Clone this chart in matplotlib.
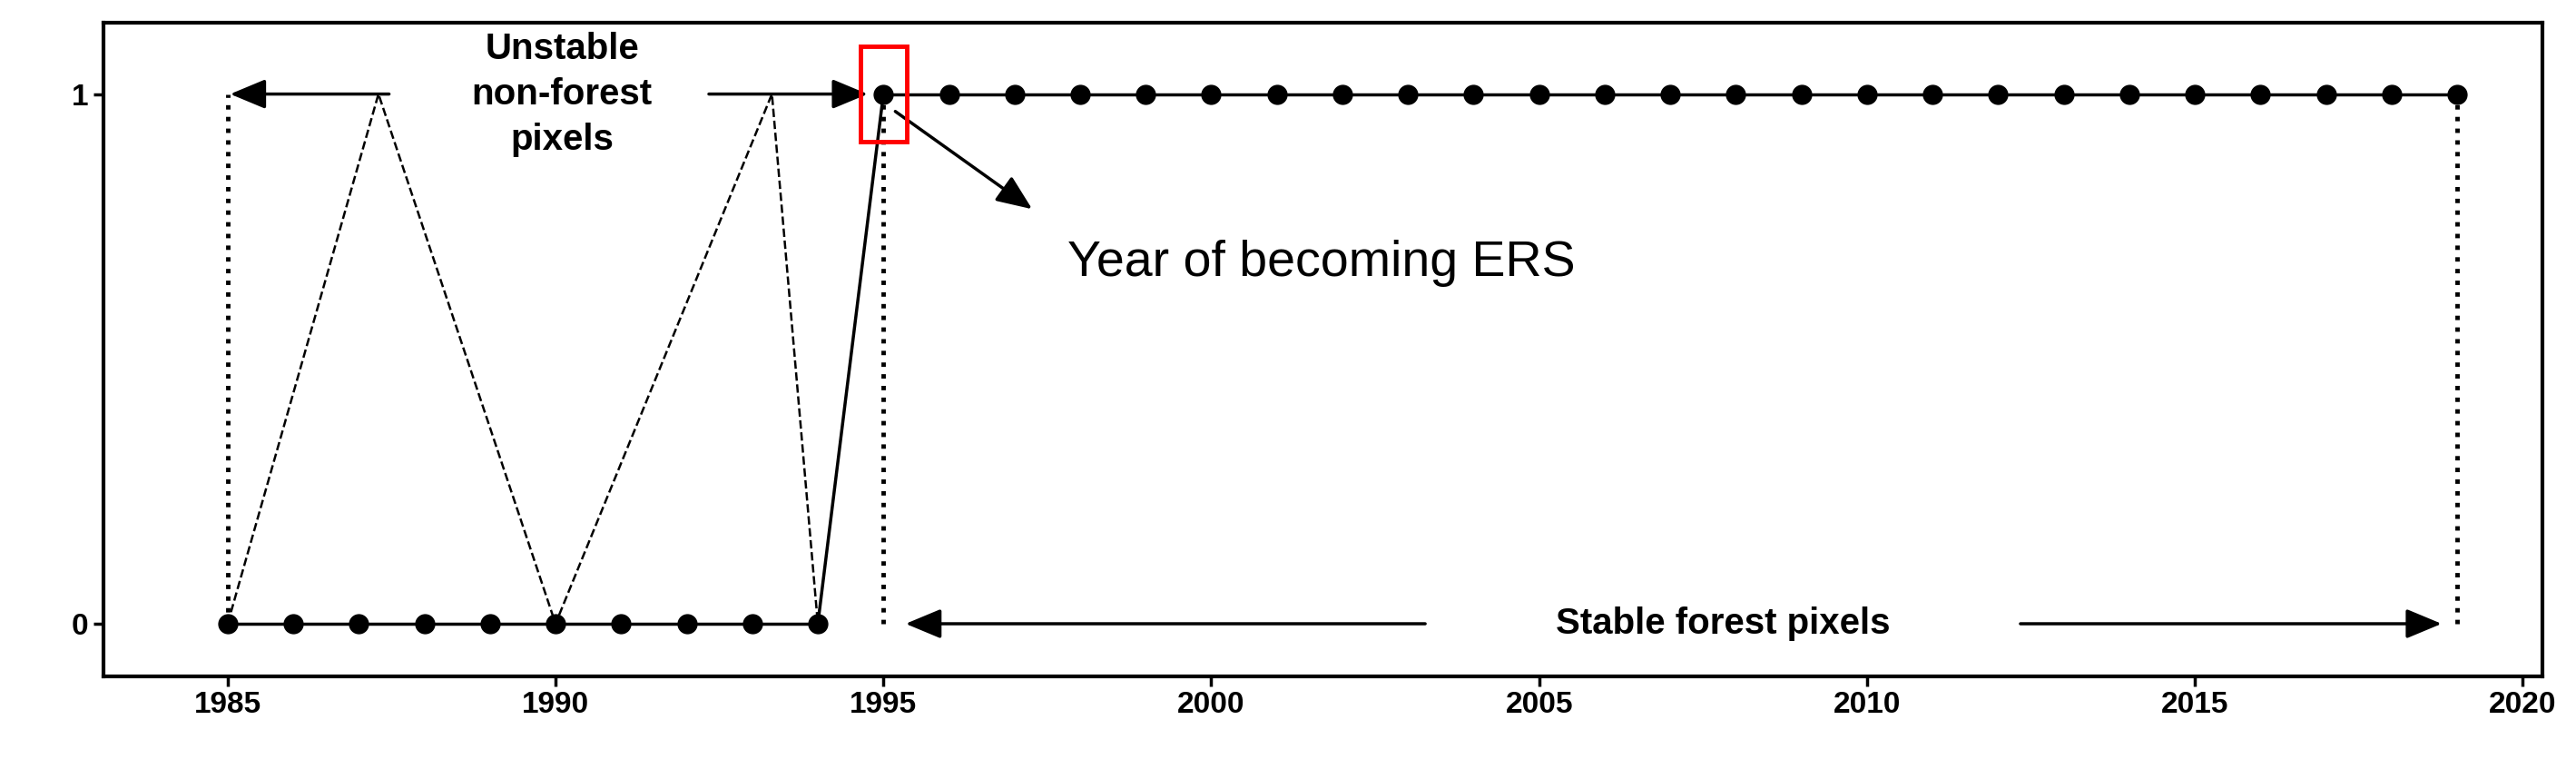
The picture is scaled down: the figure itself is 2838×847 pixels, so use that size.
import matplotlib
matplotlib.use("Agg")
import matplotlib.pyplot as plt
from matplotlib.patches import Rectangle

plt.rcParams["font.family"] = ["Liberation Sans", "DejaVu Sans"]

# data
years_nonforest = list(range(1985, 1995))
vals_nonforest = [0] * 10
years_forest = list(range(1995, 2020))
vals_forest = [1] * 25
dash_x = [1985, 1987.3, 1990, 1993.3, 1994]
dash_y = [0, 1, 0, 1, 0]
xticks = [1985, 1990, 1995, 2000, 2005, 2010, 2015, 2020]

fig = plt.figure(figsize=(28.38, 8.47), dpi=100)
ax = fig.add_axes([0.040, 0.12, 0.947, 0.85])

ax.plot(dash_x, dash_y, "k--", lw=1.8)
ax.plot(years_nonforest, vals_nonforest, "k-o", lw=2.5, ms=15)
ax.plot([1994, 1995], [0, 1], "k-", lw=2.5)
ax.plot(years_forest, vals_forest, "k-o", lw=2.5, ms=15)
for x in (1985, 1995, 2019):
    ax.plot([x, x], [0, 1], "k:", lw=3.5)

arr = dict(arrowstyle="-|>,head_length=2.4,head_width=1.0", color="k", lw=2.5)
ax.annotate("", xy=(1985, 1), xytext=(1987.5, 1), arrowprops=arr)
ax.annotate("", xy=(1994.8, 1), xytext=(1992.3, 1), arrowprops=arr)
ax.text(1990.1, 1.0, "Unstable\nnon-forest\npixels", ha="center", va="center",
        fontsize=29, fontweight="bold", linespacing=1.4)

ax.annotate("", xy=(1995.3, 0), xytext=(2003.3, 0), arrowprops=arr)
ax.annotate("", xy=(2018.8, 0), xytext=(2012.3, 0), arrowprops=arr)
ax.text(2007.8, 0, "Stable forest pixels", ha="center", va="center",
        fontsize=29, fontweight="bold")

ax.add_patch(Rectangle((1994.65, 0.91), 0.7, 0.18, fill=False, ec="red", lw=3.5, zorder=5))
ax.annotate("", xy=(1997.3, 0.78), xytext=(1995.15, 0.97), arrowprops=arr)
ax.text(1997.8, 0.68, "Year of becoming ERS", ha="left", va="center", fontsize=40)

ax.set_xlim(1983.1, 2020.3)
ax.set_ylim(-0.10, 1.134)
ax.set_xticks(xticks)
ax.set_yticks([0, 1])
ax.tick_params(labelsize=24, width=2.5, length=8)
for lbl in ax.get_xticklabels() + ax.get_yticklabels():
    lbl.set_fontweight("bold")
for s in ax.spines.values():
    s.set_linewidth(3)

fig.savefig("out.png", dpi=100)
